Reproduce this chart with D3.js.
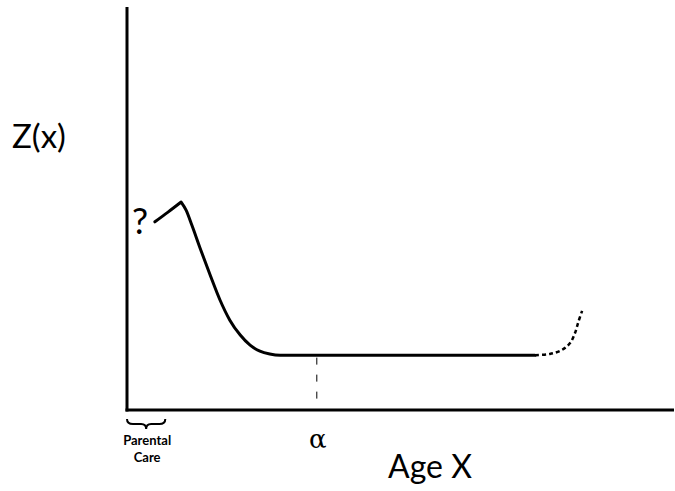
<!DOCTYPE html>
<html><head><meta charset="utf-8">
<script src="https://cdn.jsdelivr.net/npm/d3@7/dist/d3.min.js"></script>
<style>body{margin:0;background:#fff}svg{display:block}</style>
</head><body>
<script>
// Data (age units 0-100, Z units 0-100)
const riseAge  = [5.1, 7.5, 9.9];
const riseZ    = [46.7, 49.1, 51.6];
const fallAge  = [9.9, 10.8, 11.9, 13.35, 15.2, 17.0, 18.8, 20.7, 22.5, 24.3, 26.1, 28.0, 74.6];
const fallZ    = [51.6, 49.6, 45.7, 40.2, 33.5, 27.3, 22.3, 18.6, 16.1, 14.6, 13.9, 13.6, 13.6];
const dashAge  = [74.6, 77.3, 79.5, 81.0, 81.9, 82.5, 83.2];
const dashZ    = [13.6, 13.9, 14.9, 16.6, 19.1, 21.8, 24.6];
const alphaAge = 34.7;
const alphaZ   = [13.0, 1.8];
const careAge  = [0, 7];

const W = 675, H = 491;
const svg = d3.select("body").append("svg").attr("width", W).attr("height", H);
const x = d3.scaleLinear().domain([0, 100]).range([127, 674]);
const y = d3.scaleLinear().domain([0, 100]).range([410, 7]);
const font = "Lato, 'DejaVu Sans', sans-serif";

// axes
svg.append("line").attr("x1", x(0)).attr("x2", x(0)).attr("y1", y(100)).attr("y2", y(0)+1.5)
  .attr("stroke", "#000").attr("stroke-width", 3);
svg.append("line").attr("x1", x(0)-1.5).attr("x2", x(100)).attr("y1", y(0)).attr("y2", y(0))
  .attr("stroke", "#000").attr("stroke-width", 3);

const riseLine = d3.line().x(d => x(d[0])).y(d => y(d[1])).curve(d3.curveCatmullRom.alpha(0.5));
const fallLine = d3.line().x(d => x(d[0])).y(d => y(d[1])).curve(d3.curveMonotoneX);
svg.append("path").attr("d", riseLine(d3.zip(riseAge, riseZ)) + fallLine(d3.zip(fallAge, fallZ)).replace(/^M/, "L"))
  .attr("fill", "none").attr("stroke", "#000").attr("stroke-width", 3).attr("stroke-linejoin", "round").attr("stroke-linecap", "round");
svg.append("path").attr("d", riseLine(d3.zip(dashAge, dashZ)))
  .attr("fill", "none").attr("stroke", "#000").attr("stroke-width", 2.5).attr("stroke-dasharray", "4,3");

// alpha marker
svg.append("line").attr("x1", x(alphaAge)).attr("x2", x(alphaAge)).attr("y1", y(alphaZ[0])).attr("y2", y(alphaZ[1]))
  .attr("stroke", "#000").attr("stroke-width", 1).attr("stroke-dasharray", "7,10");
svg.append("text").attr("x", x(alphaAge)+1).attr("y", 448).attr("text-anchor", "middle")
  .attr("font-family", "'DejaVu Serif', serif").attr("font-size", 26).text("α");

// labels
svg.append("text").attr("x", 12).attr("y", 148).attr("font-family", font).attr("font-size", 33).text("Z(x)");
svg.append("text").attr("x", 430).attr("y", 478).attr("text-anchor", "middle").attr("font-family", font).attr("font-size", 32).text("Age X");
svg.append("text").attr("x", 140).attr("y", 234).attr("text-anchor", "middle").attr("font-family", font).attr("font-size", 36).text("?");

// parental care brace
const bx0 = x(careAge[0]), bx1 = x(careAge[1]), bm = (bx0 + bx1) / 2, by = 419;
svg.append("path").attr("d",
  `M${bx0},${by} Q${bx0},${by+5} ${bx0+6},${by+5} L${bm-5},${by+5} Q${bm},${by+5} ${bm},${by+10} Q${bm},${by+5} ${bm+5},${by+5} L${bx1-6},${by+5} Q${bx1},${by+5} ${bx1},${by}`)
  .attr("fill", "none").attr("stroke", "#000").attr("stroke-width", 2);
svg.append("text").attr("x", bm+1).attr("y", 445).attr("text-anchor", "middle")
  .attr("font-family", font).attr("font-weight", "bold").attr("font-size", 13).text("Parental");
svg.append("text").attr("x", bm+1).attr("y", 462).attr("text-anchor", "middle")
  .attr("font-family", font).attr("font-weight", "bold").attr("font-size", 13).text("Care");
</script>
</body></html>
